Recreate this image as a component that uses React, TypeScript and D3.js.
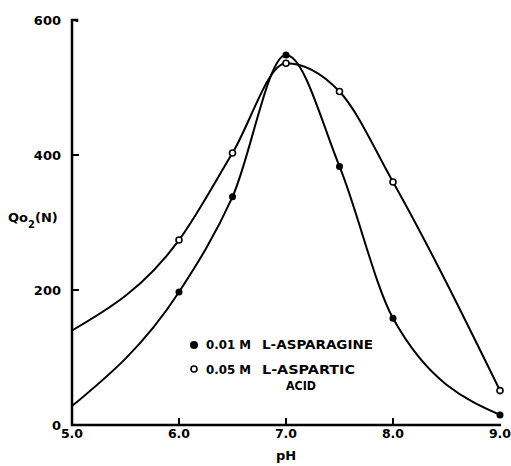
import React from "react";
import * as d3 from "d3";

// pH values where measurements were plotted
const phMeasured = [6.0, 6.5, 7.0, 7.5, 8.0, 9.0];
const asparagineQo2 = [197, 338, 548, 383, 158, 15];
const asparticQo2 = [274, 403, 536, 494, 360, 51];

// curves are drawn out to the y axis at pH 5.0
const curveStartPh = 5.0;
const asparagineStart = 28;
const asparticStart = 140;

const xTicks = [5.0, 6.0, 7.0, 8.0, 9.0];
const xTickLabels = ["5.0", "6.0", "7.0", "8.0", "9.0"];
const yTicks = [0, 200, 400, 600];
const yTickLabels = ["0", "200", "400", "600"];

const width = 511;
const height = 466;
const font = "'DejaVu Sans', sans-serif";

const App = () => {
    const x = d3.scaleLinear().domain([5, 9]).range([72, 500]);
    const y = d3.scaleLinear().domain([0, 600]).range([425, 20]);

    const line = d3
        .line<[number, number]>()
        .x((d) => x(d[0]))
        .y((d) => y(d[1]))
        .curve(d3.curveMonotoneX);

    const asparaginePts: [number, number][] = [
        [curveStartPh, asparagineStart],
        ...phMeasured.map((p, i) => [p, asparagineQo2[i]] as [number, number]),
    ];
    const asparticPts: [number, number][] = [
        [curveStartPh, asparticStart],
        ...phMeasured.map((p, i) => [p, asparticQo2[i]] as [number, number]),
    ];

    const legendText = (tx: number, ty: number, s: string, len: number) => (
        <text
            x={tx}
            y={ty}
            fontFamily={font}
            fontWeight="bold"
            fontSize={11.5}
            textLength={len}
            lengthAdjust="spacingAndGlyphs"
        >
            {s}
        </text>
    );

    return (
        <div style={{ position: "absolute", left: 0, top: 0 }}>
            <svg width={width} height={height} style={{ display: "block", background: "white" }}>
                {/* curves */}
                <path d={line(asparticPts) || ""} fill="none" stroke="black" strokeWidth={2} />
                <path d={line(asparaginePts) || ""} fill="none" stroke="black" strokeWidth={2} />

                {/* axes */}
                <path
                    d={`M${x(5) + 5},${y(600) + 2} V${y(600)} H${x(5)} V${y(0)} H${x(9) + 1}`}
                    fill="none"
                    stroke="black"
                    strokeWidth={2.5}
                />
                {yTicks
                    .filter((t) => t > 0 && t < 600)
                    .map((t) => (
                        <line key={t} x1={x(5)} x2={x(5) + 7} y1={y(t)} y2={y(t)} stroke="black" strokeWidth={2} />
                    ))}
                {xTicks
                    .filter((t) => t > 5 && t < 9)
                    .map((t) => (
                        <line key={t} x1={x(t)} x2={x(t)} y1={y(0)} y2={y(0) - 7} stroke="black" strokeWidth={2} />
                    ))}

                {/* tick labels */}
                {yTicks.map((t, i) => (
                    <text
                        key={t}
                        x={x(5) - 11}
                        y={y(t) + 5}
                        textAnchor="end"
                        fontFamily={font}
                        fontWeight="bold"
                        fontSize={13}
                    >
                        {yTickLabels[i]}
                    </text>
                ))}
                {xTicks.map((t, i) => (
                    <text
                        key={t}
                        x={x(t)}
                        y={y(0) + 13}
                        textAnchor="middle"
                        fontFamily={font}
                        fontWeight="bold"
                        fontSize={12.5}
                    >
                        {xTickLabels[i]}
                    </text>
                ))}

                {/* axis titles */}
                <text x={x(7)} y={460} textAnchor="middle" fontFamily={font} fontWeight="bold" fontSize={13}>
                    pH
                </text>
                <text x={8} y={222} fontFamily={font} fontWeight="bold" fontSize={13}>
                    Qo
                    <tspan fontSize={10} dy={6}>2</tspan>
                    <tspan dy={-6}>(N)</tspan>
                </text>

                {/* markers */}
                {phMeasured.map((p, i) => (
                    <circle key={"a" + p} cx={x(p)} cy={y(asparagineQo2[i])} r={3.5} fill="black" />
                ))}
                {phMeasured.map((p, i) => (
                    <circle
                        key={"b" + p}
                        cx={x(p)}
                        cy={y(asparticQo2[i])}
                        r={3}
                        fill="white"
                        stroke="black"
                        strokeWidth={1.6}
                    />
                ))}

                {/* legend */}
                <circle cx={194} cy={345} r={4} fill="black" />
                {legendText(206, 349, "0.01 M", 45)}
                {legendText(262, 349, "L-ASPARAGINE", 111)}
                <circle cx={194} cy={369} r={3} fill="white" stroke="black" strokeWidth={1.6} />
                {legendText(206, 374, "0.05 M", 45)}
                {legendText(262, 374, "L-ASPARTIC", 93)}
                {legendText(286, 390, "ACID", 30)}
            </svg>
        </div>
    );
};

export default App;
